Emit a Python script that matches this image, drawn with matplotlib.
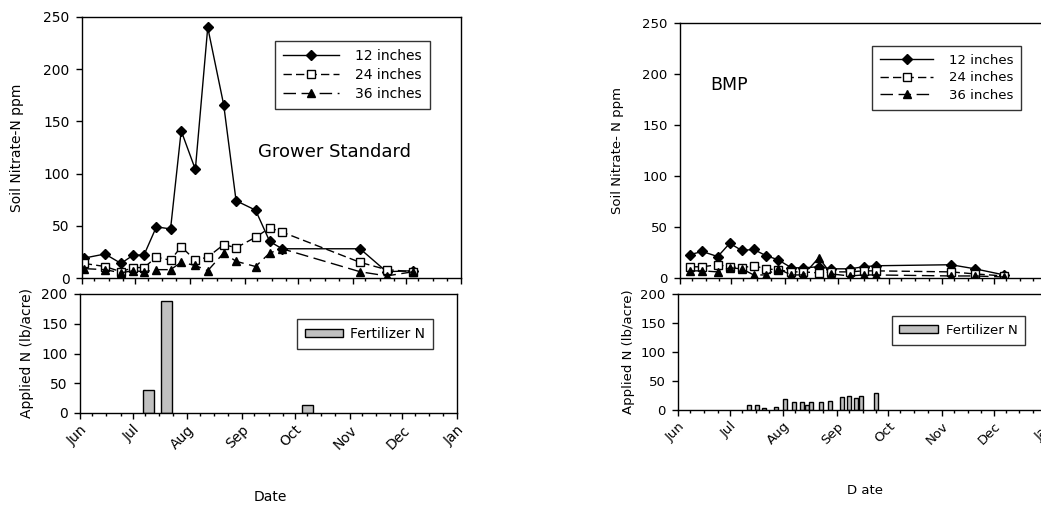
import datetime as dt
import matplotlib
matplotlib.use("Agg")
import matplotlib.pyplot as plt
import matplotlib.dates as mdates

plt.rcParams['font.family'] = ['DejaVu Sans']

YEAR = 2005

def to_dates(days):
    return [dt.datetime.strptime(f"{YEAR}-{d}", "%Y-%m-%d") for d in days]

# Grower Standard soil nitrate (ppm)
gs_dates = ['06-02', '06-14', '06-23', '06-30', '07-06', '07-13', '07-21', '07-27', '08-04',
            '08-11', '08-20', '08-27', '09-07', '09-15', '09-22', '11-05', '11-20', '12-05']
gs_12 = [19, 23, 14, 22, 22, 49, 47, 141, 104, 240, 166, 74, 65, 35, 28, 28, 6, 7]
gs_24 = [14, 11, 6, 10, 10, 20, 17, 30, 17, 20, 32, 29, 39, 48, 44, 15, 8, 6]
gs_36 = [9, 8, 5, 7, 6, 8, 8, 15, 12, 7, 24, 16, 11, 24, 28, 6, 2, 6]

# BMP soil nitrate (ppm)
bmp_dates = ['06-07', '06-14', '06-23', '06-30', '07-07', '07-14', '07-21', '07-28', '08-05',
             '08-12', '08-21', '08-28', '09-08', '09-16', '09-23', '11-06', '11-20', '12-07']
bmp_12 = [23, 26, 21, 34, 27, 28, 22, 18, 10, 10, 11, 9, 9, 11, 12, 13, 9, 3]
bmp_24 = [11, 11, 13, 11, 10, 12, 9, 8, 6, 6, 5, 6, 6, 7, 7, 6, 4, 2]
bmp_36 = [7, 7, 6, 10, 9, 3, 3, 9, 3, 3, 20, 4, 2, 3, 3, 2, 2, 1]

# fertilizer N applied (lb/acre)
gs_fert_dates = ['07-10', '07-20', '10-08']
gs_fert = [39, 189, 13]
bmp_fert_dates = ['07-12', '07-17', '07-21', '07-28', '08-02', '08-07', '08-12', '08-15',
                  '08-17', '08-23', '08-28', '09-04', '09-08', '09-12', '09-15', '09-24']
bmp_fert = [9, 9, 3, 6, 19, 14, 14, 9, 14, 14, 16, 22, 24, 20, 24, 30]

depth_labels = ['12 inches', '24 inches', '36 inches']

x0 = dt.datetime(YEAR, 6, 1)
x1 = dt.datetime(YEAR + 1, 1, 1)

fig = plt.figure(figsize=(10.41, 5.08), dpi=100)
W, H = 1041, 508

def px_axes(l, t, r, b):
    return fig.add_axes([l / W, 1 - b / H, (r - l) / W, (b - t) / H])

def style_x(ax, labels, fs):
    ax.set_xlim(x0, x1)
    ax.xaxis.set_major_locator(mdates.MonthLocator())
    ax.xaxis.set_minor_locator(mdates.DayLocator(bymonthday=[8, 16, 24]))
    ax.tick_params(axis='x', which='major', direction='out', length=4, width=1, pad=3)
    ax.tick_params(axis='x', which='minor', direction='out', length=2.5, width=1)
    if labels:
        ax.xaxis.set_major_formatter(mdates.DateFormatter('%b'))
        for lab in ax.get_xticklabels():
            lab.set_rotation(45)
            lab.set_ha('right')
            lab.set_rotation_mode('anchor')
            lab.set_fontsize(fs)
    else:
        ax.set_xticklabels([])
    ax.tick_params(axis='y', direction='out', length=4, width=1, pad=5)
    for s in ax.spines.values():
        s.set_linewidth(1)

def nitrate_panel(ax, dates, v12, v24, v36, fs):
    d = to_dates(dates)
    ax.plot(d, v12, '-', color='black', lw=1, marker='D', ms=5, mfc='black', label=depth_labels[0])
    ax.plot(d, v24, '--', color='black', lw=1, dashes=(6, 3), marker='s', ms=5.5, mfc='white',
            label=depth_labels[1])
    ax.plot(d, v36, '--', color='black', lw=1, dashes=(9, 4), marker='^', ms=6, mfc='black',
            label=depth_labels[2])
    ax.set_ylim(0, 250)
    ax.set_yticks([0, 50, 100, 150, 200, 250])
    ax.tick_params(axis='y', labelsize=fs)
    style_x(ax, False, fs)

def fert_panel(ax, dates, vals, width, fs):
    ax.bar(to_dates(dates), vals, width=width, color='#c0c0c0', edgecolor='black', lw=1,
           label='Fertilizer N')
    ax.set_ylim(0, 200)
    ax.set_yticks([0, 50, 100, 150, 200])
    ax.tick_params(axis='y', labelsize=fs)
    style_x(ax, True, fs)

def box_legend(ax, anchor, fs, **kw):
    leg = ax.legend(loc='upper right', bbox_to_anchor=anchor, fontsize=fs, frameon=True,
                    fancybox=False, edgecolor='black', **kw)
    leg.get_frame().set_linewidth(1)
    return leg

# left: Grower Standard
ax1 = px_axes(82, 17, 461, 278)
nitrate_panel(ax1, gs_dates, gs_12, gs_24, gs_36, 10)
ax1.set_ylabel('Soil Nitrate-N ppm', fontsize=10, labelpad=14)
ax1.text(0.464, 0.483, 'Grower Standard', transform=ax1.transAxes, fontsize=13, va='center')
box_legend(ax1, (0.937, 0.935), 10, handlelength=4.0, borderpad=0.6,
           labelspacing=0.35, handletextpad=1.2)

ax2 = px_axes(80, 294, 457, 413)
fert_panel(ax2, gs_fert_dates, gs_fert, 6, 10)
ax2.set_ylabel('Applied N (lb/acre)', fontsize=10, labelpad=5)
box_legend(ax2, (0.955, 0.85), 10, handlelength=2.7, handleheight=0.5,
           borderpad=0.6, handletextpad=0.5)
fig.text(270 / W, 1 - 497 / H, 'Date', fontsize=10, ha='center', va='center')

# right: BMP
ax3 = px_axes(680, 23, 1047, 278)
nitrate_panel(ax3, bmp_dates, bmp_12, bmp_24, bmp_36, 9.5)
ax3.set_ylabel('Soil Nitrate- N ppm', fontsize=9.5, labelpad=13)
ax3.text(0.082, 0.756, 'BMP', transform=ax3.transAxes, fontsize=12.5, va='center')
box_legend(ax3, (0.948, 0.937), 9.5, handlelength=4.0, borderpad=0.6,
           labelspacing=0.35, handletextpad=1.2)

ax4 = px_axes(678, 294, 1047, 410)
fert_panel(ax4, bmp_fert_dates, bmp_fert, 2.3, 9.5)
ax4.set_ylabel('Applied N (lb/acre)', fontsize=9.5, labelpad=4)
box_legend(ax4, (0.959, 0.87), 9.5, handlelength=2.9, handleheight=0.5,
           borderpad=0.6, handletextpad=0.6)
fig.text(865 / W, 1 - 491 / H, 'D ate', fontsize=9.5, ha='center', va='center')

fig.savefig('out.png', dpi=100)
